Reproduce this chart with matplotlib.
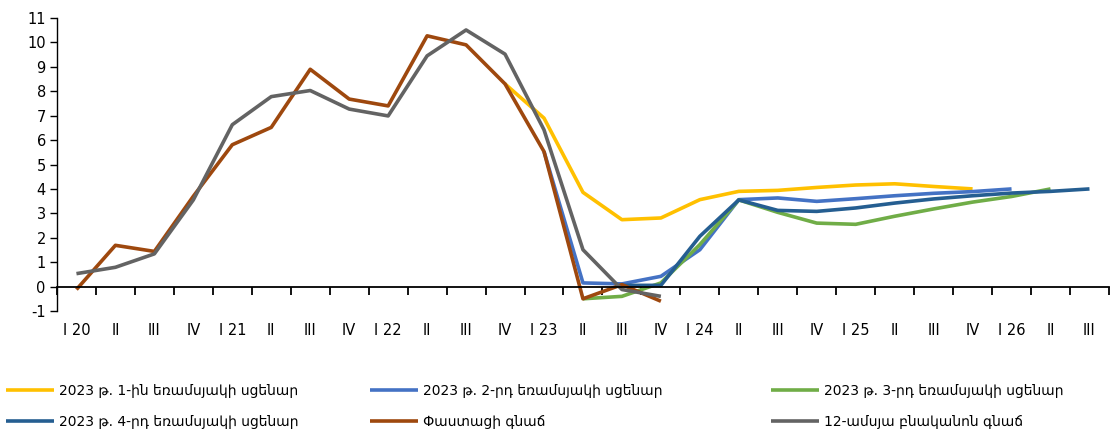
import numpy as np
import matplotlib
matplotlib.use("Agg")
import matplotlib.pyplot as plt

plt.rcParams['font.family'] = ['DejaVu Sans']
plt.rcParams['axes.unicode_minus'] = False

nan = np.nan

# եռամսյակներ (I 20 ... III 26)
quarters = ['I 20', 'II', 'III', 'IV', 'I 21', 'II', 'III', 'IV', 'I 22', 'II', 'III', 'IV',
            'I 23', 'II', 'III', 'IV', 'I 24', 'II', 'III', 'IV', 'I 25', 'II', 'III', 'IV',
            'I 26', 'II', 'III']

scen_q1 = [nan] * 11 + [8.3, 6.9, 3.86, 2.74, 2.81, 3.56, 3.90, 3.94, 4.06, 4.16, 4.21, 4.10, 4.00,
                        nan, nan, nan]
scen_q2 = [nan] * 12 + [5.53, 0.15, 0.11, 0.42, 1.51, 3.56, 3.63, 3.49, 3.60, 3.72, 3.82, 3.89, 4.00,
                        nan, nan]
scen_q3 = [nan] * 13 + [-0.50, -0.40, 0.15, 1.72, 3.55, 3.04, 2.60, 2.55, 2.88, 3.18, 3.46, 3.69, 4.00,
                        nan]
scen_q4 = [nan] * 14 + [0.05, 0.05, 2.06, 3.55, 3.12, 3.08, 3.22, 3.42, 3.59, 3.72, 3.83, 3.90, 4.00]
actual = [-0.12, 1.69, 1.44, 3.70, 5.81, 6.52, 8.90, 7.68, 7.40, 10.27, 9.90, 8.30,
          5.53, -0.50, 0.08, -0.60] + [nan] * 11
core = [0.53, 0.79, 1.34, 3.55, 6.63, 7.78, 8.03, 7.27, 6.99, 9.45, 10.51, 9.52,
        6.42, 1.51, -0.12, -0.40] + [nan] * 11

labels = ['2023 թ. 1-ին եռամսյակի սցենար', '2023 թ. 2-րդ եռամսյակի սցենար',
          '2023 թ. 3-րդ եռամսյակի սցենար', '2023 թ. 4-րդ եռամսյակի սցենար',
          'Փաստացի գնաճ', '12-ամսյա բնականոն գնաճ']
colors = ['#FFC000', '#4472C4', '#70AD47', '#255E91', '#9E480E', '#636363']
series = [scen_q1, scen_q2, scen_q3, scen_q4, actual, core]

fig = plt.figure(figsize=(11.17, 4.36), dpi=100)
ax = fig.add_axes([0.051, 0.2867, 0.9418, 0.672])

x = np.arange(len(quarters))
lines = []
for vals, col, lab in zip(series, colors, labels):
    ln, = ax.plot(x, vals, color=col, lw=2.6, label=lab, solid_capstyle='butt')
    lines.append(ln)

ax.set_xlim(-0.5, len(quarters) - 0.5)
ax.set_ylim(-1, 11)
ax.set_yticks(range(-1, 12))
ax.tick_params(axis='y', direction='out', length=5, width=1, labelsize=10.5, pad=3)

for s in ['top', 'right']:
    ax.spines[s].set_visible(False)
ax.spines['left'].set_linewidth(1)
ax.spines['bottom'].set_position(('data', 0))
ax.spines['bottom'].set_linewidth(1.3)
ax.set_xticks(np.arange(len(quarters) + 1) - 0.5)
ax.tick_params(axis='x', direction='out', length=6, width=1.3, labelbottom=False)

sec = ax.secondary_xaxis(0)
sec.set_xticks(x)
sec.set_xticklabels(quarters)
sec.spines['bottom'].set_visible(False)
sec.tick_params(axis='x', length=0, pad=9, labelsize=10.5)

# legend in three columns, like the original
cols = [[0, 3], [1, 4], [2, 5]]
xs = [0.005, 0.331, 0.690]
for c, xl in zip(cols, xs):
    fig.legend([lines[i] for i in c], [labels[i] for i in c], loc='upper left',
               bbox_to_anchor=(xl, 0.119), frameon=False, fontsize=10,
               handlelength=3.5, handletextpad=0.35, labelspacing=1.22,
               borderaxespad=0, borderpad=0)

fig.savefig('out.png', dpi=100)
